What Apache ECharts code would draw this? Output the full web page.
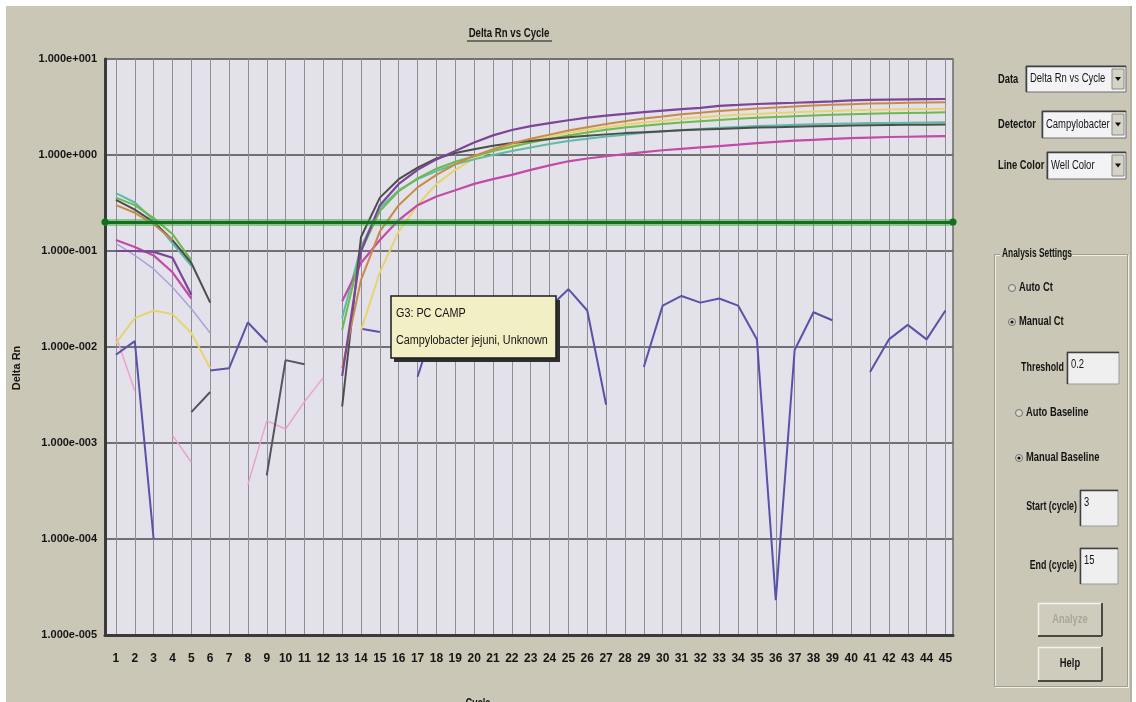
<!DOCTYPE html>
<html><head><meta charset="utf-8">
<script src="https://cdn.jsdelivr.net/npm/echarts@6/dist/echarts.min.js"></script>
<style>html,body{margin:0;padding:0;background:#fff;}#c{width:1136px;height:702px;}</style>
</head><body><div id="c"></div>
<script>
// ---------------- DATA ----------------
const cycles = [1,2,3,4,5,6,7,8,9,10,11,12,13,14,15,16,17,18,19,20,21,22,23,24,25,26,27,28,29,30,31,32,33,34,35,36,37,38,39,40,41,42,43,44,45];
const yTickLabels = ['1.000e-005','1.000e-004','1.000e-003','1.000e-002','1.000e-001','1.000e+000','1.000e+001'];
const threshold = 0.2;

const wellPurple = [0.1,0.1,0.098,0.085,0.035,null,null,null,null,null,null,null,0.005,0.1,0.3,
  0.5,0.7,0.9,1.1,1.35,1.6,1.82,2.0,2.15,2.3,2.45,2.57,2.68,2.8,2.9,
  3.0,3.1,3.25,3.32,3.4,3.45,3.5,3.56,3.62,3.7,3.75,3.78,3.8,3.82,3.83];
const wellOrange = [0.3,0.25,0.19,0.13,null,null,null,null,null,null,null,null,0.006,0.05,0.16,
  0.3,0.46,0.62,0.8,0.98,1.15,1.32,1.48,1.63,1.8,1.95,2.1,2.25,2.4,2.52,
  2.65,2.76,2.87,2.96,3.05,3.13,3.2,3.27,3.33,3.38,3.43,3.47,3.5,3.53,3.55];
const wellYellow = [0.011,0.02,0.024,0.022,0.014,0.006,null,null,null,null,null,null,null,0.015,0.06,
  0.16,0.3,0.5,0.7,0.92,1.1,1.27,1.42,1.56,1.7,1.83,1.95,2.07,2.18,2.28,
  2.38,2.47,2.55,2.62,2.68,2.74,2.79,2.84,2.88,2.92,2.95,2.98,3.0,3.02,3.03];
const wellGreen = [0.36,0.3,0.22,0.15,0.08,null,null,null,null,null,null,null,0.015,0.1,0.26,
  0.42,0.57,0.72,0.85,0.97,1.1,1.22,1.35,1.47,1.6,1.72,1.83,1.93,2.02,2.1,
  2.18,2.25,2.32,2.38,2.44,2.49,2.54,2.58,2.62,2.66,2.69,2.72,2.74,2.76,2.78];
const wellTeal = [0.4,0.32,0.21,0.12,0.07,null,null,null,null,null,null,null,0.02,0.11,0.28,
  0.43,0.56,0.68,0.8,0.9,1.0,1.1,1.2,1.3,1.4,1.48,1.56,1.63,1.7,1.76,
  1.82,1.87,1.92,1.96,2.0,2.03,2.06,2.09,2.11,2.13,2.15,2.16,2.17,2.18,2.19];
const wellDark = [0.34,0.27,0.2,0.13,0.075,0.029,null,null,null,null,null,null,0.0024,0.14,0.36,
  0.56,0.74,0.92,1.05,1.15,1.25,1.33,1.4,1.47,1.53,1.59,1.64,1.69,1.73,1.77,
  1.81,1.84,1.87,1.9,1.93,1.95,1.97,1.99,2.01,2.03,2.04,2.05,2.06,2.07,2.08];
const wellMagenta = [0.13,0.11,0.09,0.06,0.032,null,null,null,null,null,null,null,0.03,0.075,0.13,
  0.21,0.3,0.37,0.43,0.5,0.56,0.62,0.7,0.78,0.86,0.92,0.97,1.02,1.07,1.12,
  1.16,1.2,1.24,1.28,1.33,1.37,1.41,1.44,1.47,1.5,1.52,1.54,1.55,1.56,1.57];
const wellLavender = [0.12,0.09,0.065,0.042,0.025,0.014,null,null,null,null,null,null,null,null,null,
  null,null,null,null,null,null,null,null,null,null,null,null,null,null,null,
  null,null,null,null,null,null,null,null,null,null,null,null,null,null,null];
const wellNavy = [0.0083,0.0115,0.0001,null,null,0.0057,0.006,0.018,0.0112,null,null,null,null,0.0155,0.0143,
  null,0.0049,0.02,null,null,null,null,null,0.026,0.04,0.024,0.0025,null,0.0062,0.027,
  0.034,0.029,0.032,0.027,0.012,0.000023,0.0093,0.023,0.019,null,0.0055,0.012,0.017,0.012,0.024];
const wellGrayLow = [null,null,null,null,0.0021,0.0034,null,null,0.00046,0.0073,0.0066,null,null,null,null,
  null,null,null,null,null,null,null,null,null,null,null,null,null,null,null,
  null,null,null,null,null,null,null,null,null,null,null,null,null,null,null];
const wellPinkLow = [0.013,0.0035,null,0.0012,0.00063,null,null,0.00037,0.0017,0.0014,0.0027,0.0048,null,null,null,
  null,null,null,null,null,null,null,null,null,null,null,null,null,null,null,
  null,null,null,null,null,null,null,null,null,null,null,null,null,null,null];

// ---------------- CHART ----------------
const FONT = "'Liberation Sans', Arial, sans-serif";
const wells = [
  {name:'Lavender', data:wellLavender, color:'#aaa2dc', width:1.5},
  {name:'PinkLow', data:wellPinkLow, color:'#eaa2cf', width:1.5},
  {name:'GrayLow', data:wellGrayLow, color:'#55555f', width:2},
  {name:'Navy', data:wellNavy, color:'#5953a8', width:2},
  {name:'Yellow', data:wellYellow, color:'#e6d46e', width:2},
  {name:'Teal', data:wellTeal, color:'#5fbaa8', width:2},
  {name:'Magenta', data:wellMagenta, color:'#c44aa9', width:2.2},
  {name:'Green', data:wellGreen, color:'#6cba4e', width:2},
  {name:'Dark', data:wellDark, color:'#4a4f4a', width:2},
  {name:'Orange', data:wellOrange, color:'#c98a48', width:2},
  {name:'Purple', data:wellPurple, color:'#7c4597', width:2.2}
];

const series = wells.map(w => ({
  name: w.name, type:'line', showSymbol:false, symbol:'none', connectNulls:false,
  silent:true, lineStyle:{color:w.color, width:w.width}, itemStyle:{color:w.color},
  data: cycles.map((c,i) => [c, w.data[i] == null ? null : w.data[i]])
}));
series.push({
  name:'Threshold', type:'line', data:[], silent:true,
  markLine:{silent:true, symbol:['circle','circle'], symbolSize:7, label:{show:false}, animation:false,
    data:[
      {yAxis:threshold, lineStyle:{color:'rgba(70,165,70,0.55)', width:7, type:'solid'}, itemStyle:{color:'#1c3a1c'}},
      {yAxis:threshold, lineStyle:{color:'#12701c', width:3, type:'solid'}, itemStyle:{color:'#1c3a1c'}}
    ]}
});

function T(text, x, y, o) {
  o = o || {};
  return {type:'text', x:x, y:y, z:o.z||10, rotation:o.rotation||0, scaleX:o.sx||0.78, scaleY:1,
    style:{text:text, fill:o.fill||'#141414', fontFamily:FONT, fontSize:o.size||12,
      fontWeight:o.weight||'bold', textAlign:o.align||'left', verticalAlign:'middle', textVerticalAlign:'middle'}};
}
function R(x, y, w, h, fill, stroke, lw, z) {
  return {type:'rect', z:z||5, shape:{x:x,y:y,width:w,height:h},
    style:{fill:fill||'none', stroke:stroke||null, lineWidth:lw||1}};
}
function L(x1,y1,x2,y2,stroke,lw,z){
  return {type:'line', z:z||6, shape:{x1:x1,y1:y1,x2:x2,y2:y2}, style:{stroke:stroke, lineWidth:lw||1}};
}
function dropdown(x, y, w, h, text) {
  return [
    R(x, y, w, h, '#f3f3f6', '#6f6f6f', 1),
    L(x, y+0.5, x+w, y+0.5, '#404040', 1.5),
    L(x+0.5, y, x+0.5, y+h, '#404040', 1.5),
    T(text, x+4, y+h/2, {size:12, weight:'normal', sx:0.79}),
    R(x+w-14, y+3, 12, h-6, '#d5d2c6', '#8a8a8a', 1),
    {type:'polygon', z:8, shape:{points:[[x+w-11,y+h/2-2],[x+w-5,y+h/2-2],[x+w-8,y+h/2+2]]}, style:{fill:'#111'}}
  ];
}
function inputBox(x, y, w, h, text) {
  return [
    R(x, y, w, h, '#efeff0', '#9a9a9a', 1),
    L(x, y+0.5, x+w, y+0.5, '#404040', 1.5),
    L(x+0.5, y, x+0.5, y+h, '#404040', 1.5),
    T(text, x+4, y+13, {size:12, weight:'normal'})
  ];
}
function radio(x, y, label, checked) {
  const arr = [
    {type:'circle', z:7, shape:{cx:x, cy:y, r:3.5}, style:{fill:'#d9d6ca', stroke:'#707070', lineWidth:1}},
    T(label, x+7, y, {size:12})
  ];
  if (checked) arr.push({type:'circle', z:8, shape:{cx:x, cy:y, r:1.6}, style:{fill:'#111'}});
  return arr;
}
function button(x, y, w, h, label, disabled) {
  return [
    R(x, y, w, h, '#cfccbe', null, 1),
    L(x, y+0.5, x+w, y+0.5, '#f4f3ec', 1.5),
    L(x+0.5, y, x+0.5, y+h, '#f4f3ec', 1.5),
    L(x, y+h, x+w, y+h, '#4a4a44', 2),
    L(x+w, y, x+w, y+h, '#4a4a44', 2),
    T(label, x+w/2, y+h/2, {size:12, align:'center', fill: disabled ? '#a9a79c' : '#141414'})
  ];
}

const graphics = [].concat(
  [R(0,0,1136,6,'#ffffff',null,1,1), R(0,0,6,702,'#ffffff',null,1,1), R(1132,0,4,702,'#ffffff',null,1,1),
   L(1131,6,1131,702,'#9c9a8e',1,2)],
  [T('Delta Rn vs Cycle', 509, 33, {size:13, align:'center', sx:0.74}), L(467,41,552,41,'#141414',1)],
  [T('Delta Rn', 17, 368, {size:11, align:'center', rotation:Math.PI/2, sx:1})],
  [T('Cycle', 478, 704, {size:12, align:'center'})],
  // tooltip
  [R(394,300,166,62,'#2e2e2e',null,1,100), R(391,296,165,62,'#f2efc5','#1c1c1c',1.5,101),
   T('G3: PC CAMP', 396, 314, {size:12, weight:'normal', z:102, sx:0.9}),
   T('Campylobacter jejuni, Unknown', 396, 341, {size:12, weight:'normal', z:102, sx:0.9})],
  // right panel
  [T('Data', 998, 80), T('Detector', 998, 125), T('Line Color', 998, 166)],
  dropdown(1026, 66, 100, 26, 'Delta Rn vs Cycle'),
  dropdown(1042, 111, 84, 27, 'Campylobacter'),
  dropdown(1047, 152, 79, 27, 'Well Color'),
  [R(995.5, 255.5, 133, 432, null, '#f1efe6', 1), R(994.5, 254.5, 133, 432, null, '#9f9c90', 1),
   R(1000, 247, 72, 14, '#cac7b6', null, 1, 6), T('Analysis Settings', 1002, 254, {z:11, sx:0.7})],
  radio(1012, 288, 'Auto Ct', false),
  radio(1012, 322, 'Manual Ct', true),
  [T('Threshold', 1064, 368, {align:'right', sx:0.74})],
  inputBox(1067, 352, 52, 32, '0.2'),
  radio(1019, 413, 'Auto Baseline', false),
  radio(1019, 458, 'Manual Baseline', true),
  [T('Start (cycle)', 1077, 507, {align:'right', sx:0.74}), T('End (cycle)', 1077, 566, {align:'right', sx:0.74})],
  inputBox(1080, 490, 38, 36, '3'),
  inputBox(1080, 548, 38, 36, '15'),
  button(1038, 603, 64, 33, 'Analyze', true),
  button(1038, 647, 64, 34, 'Help', false)
);

const chart = echarts.init(document.getElementById('c'), null, {renderer:'canvas'});
chart.setOption({
  animation:false,
  backgroundColor:'#cac7b6',
  grid:{left:105, right:183, top:59, bottom:67, show:true, backgroundColor:'#e3e2ea', borderColor:'#6a6a6a', borderWidth:1.5, containLabel:false},
  xAxis:{type:'value', min:0.42, max:45.4,
    axisLine:{show:true, onZero:false, lineStyle:{color:'#3a3a3a', width:3}},
    axisTick:{show:false, customValues:cycles},
    axisLabel:{customValues:cycles, color:'#151515', fontFamily:FONT, fontWeight:'bold', fontSize:12, margin:18, formatter: v => String(v)},
    splitLine:{show:true, lineStyle:{color:'#8d8d92', width:1}}
  },
  yAxis:{type:'log', logBase:10, min:1e-5, max:10,
    axisLine:{show:true, lineStyle:{color:'#3a3a3a', width:3}},
    axisTick:{show:false},
    axisLabel:{color:'#151515', fontFamily:FONT, fontWeight:'bold', fontSize:11, margin:8,
      formatter: v => yTickLabels[Math.round(Math.log10(v)) + 5]},
    splitLine:{show:true, lineStyle:{color:'#707074', width:2}}
  },
  series: series,
  graphic: graphics
});
</script></body></html>
